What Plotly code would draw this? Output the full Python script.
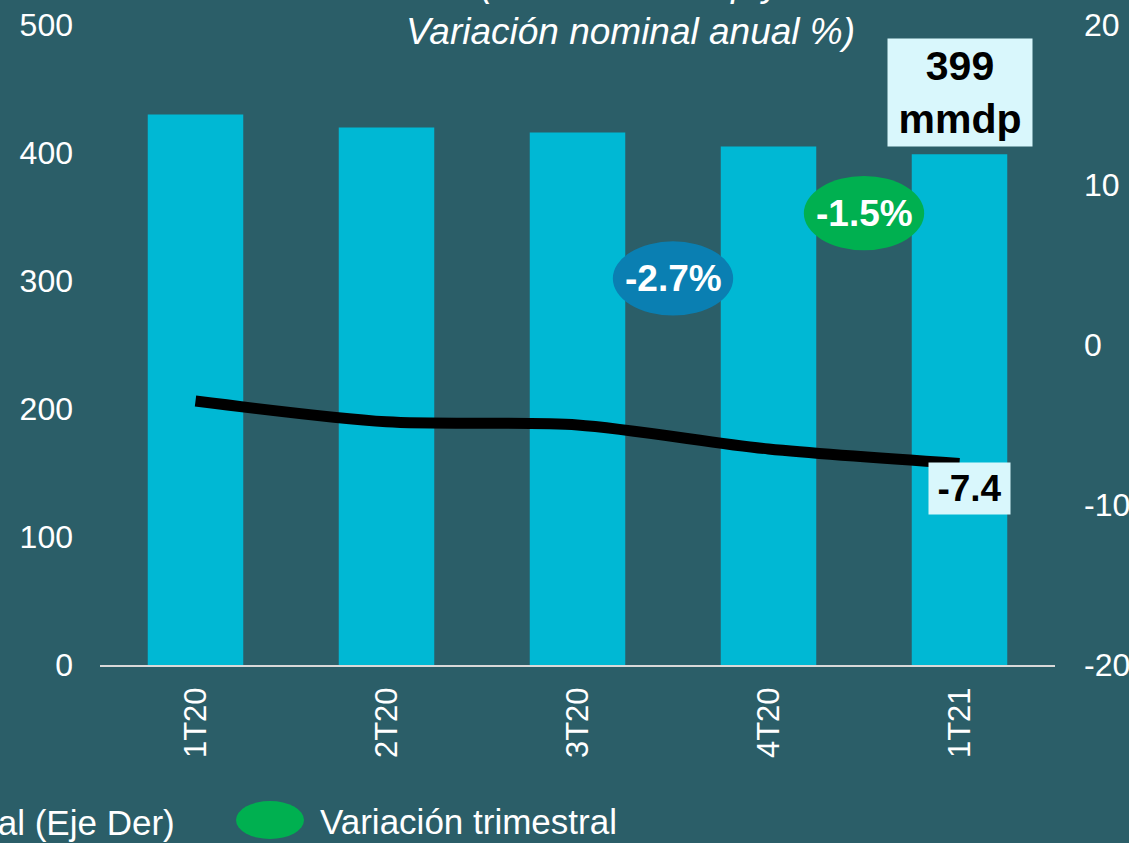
import plotly.graph_objects as go

categories = ["1T20", "2T20", "3T20", "4T20", "1T21"]
saldo = [430, 420, 416, 405, 399]
var_anual = [-3.5, -4.8, -5.0, -6.5, -7.4]
bubbles = [("-2.7%", 2.5, 302, "#0a7fb2"), ("-1.5%", 3.5, 353, "#00b050")]
left_ticks = [0, 100, 200, 300, 400, 500]
right_ticks = [-20, -10, 0, 10, 20]
right_labels = ["-20", "-10", "0", "10", "20"]

BG = "#2b5e68"
BAR = "#00b8d4"
FONT = "Liberation Sans, Arial, sans-serif"

W, H = 1129, 843
L, R, T, B = 100, 74, 25, 178
pw, ph = W - L - R, H - T - B

def px(x):
    return (x - L) / pw

def py(y):
    return (H - B - y) / ph

fig = go.Figure()
fig.add_trace(go.Bar(x=categories, y=saldo, marker=dict(color=BAR, line=dict(width=0)),
                     width=0.5, name="Saldo (Eje Izq)", showlegend=False))
fig.add_trace(go.Scatter(x=categories, y=var_anual, yaxis="y2", mode="lines",
                         line=dict(color="black", width=11, shape="spline", smoothing=0.8),
                         name="Variación nominal anual (Eje Der)", showlegend=False))

shapes = []
annotations = []
for txt, xc, yc, col in bubbles:
    shapes.append(dict(type="circle", xref="x", yref="y", x0=xc - 0.315, x1=xc + 0.315,
                       y0=yc - 29, y1=yc + 29, fillcolor=col, line=dict(width=0), layer="above"))
    annotations.append(dict(x=xc, y=yc, xref="x", yref="y", text="<b>%s</b>" % txt,
                            showarrow=False, font=dict(color="white", size=37, family=FONT)))

# value label boxes
annotations.append(dict(x=categories[-1], y=saldo[-1], xref="x", yref="y",
                        text="<b>%d<br>mmdp</b>" % saldo[-1], showarrow=False,
                        yshift=62, bgcolor="#d9f7fc", width=142, height=105,
                        font=dict(color="black", size=41, family=FONT)))
annotations.append(dict(x=categories[-1], y=var_anual[-1], xref="x", yref="y2",
                        text="<b>%.1f</b>" % var_anual[-1], showarrow=False,
                        xshift=9.5, yshift=-25.5, bgcolor="#d9f7fc", width=79, height=49,
                        font=dict(color="black", size=37, family=FONT)))

# title (partially cut at top)
annotations.append(dict(x=px(630), y=py(54), xref="paper", yref="paper", xanchor="center",
                        yanchor="bottom", showarrow=False,
                        text="<i>(Saldo en mmdp y<br>Variación nominal anual %)</i>",
                        font=dict(color="white", size=37, family=FONT)))

# legend (cut at left)
annotations.append(dict(x=px(177), y=py(822), xref="paper", yref="paper", xanchor="right",
                        yanchor="middle", showarrow=False,
                        text="Variación nominal anual (Eje Der)",
                        font=dict(color="white", size=35, family=FONT)))
shapes.append(dict(type="circle", xref="paper", yref="paper", x0=px(236), x1=px(304),
                   y0=py(839), y1=py(801), fillcolor="#00b050", line=dict(width=0)))
annotations.append(dict(x=px(318), y=py(821), xref="paper", yref="paper", xanchor="left",
                        yanchor="middle", showarrow=False, text="Variación trimestral",
                        font=dict(color="white", size=35, family=FONT)))

fig.update_layout(
    width=W, height=H, margin=dict(l=L, r=R, t=T, b=B, autoexpand=False),
    paper_bgcolor=BG, plot_bgcolor=BG, bargap=0.5,
    font=dict(family=FONT, color="white", size=31),
    xaxis=dict(tickangle=-90, showgrid=False, showline=True, linecolor="#d9d9d9",
               linewidth=2, ticks="", tickfont=dict(size=31, color="white"),
               ticklabelstandoff=8),
    yaxis=dict(range=[0, 500], tickvals=left_ticks, showgrid=False, zeroline=False,
               ticks="", tickfont=dict(size=32, color="white"), ticklabelstandoff=26),
    yaxis2=dict(range=[-20, 20], tickvals=right_ticks, ticktext=right_labels,
                overlaying="y", side="right",
                showgrid=False, zeroline=False, ticks="",
                tickfont=dict(size=32, color="white"), ticklabelstandoff=28),
    shapes=shapes, annotations=annotations, showlegend=False,
)

fig.write_html("out.html", config={"displayModeBar": False},
               post_script="document.body.style.margin='0';")
